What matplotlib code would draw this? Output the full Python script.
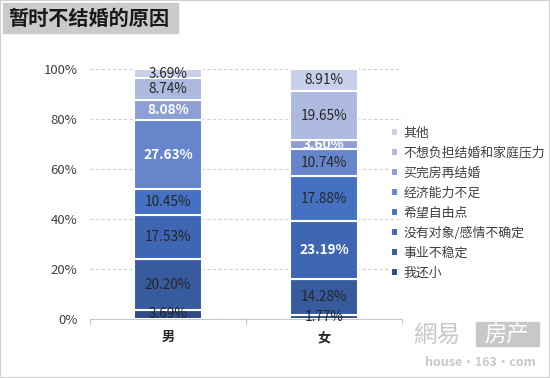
import numpy as np
import matplotlib.pyplot as plt
from matplotlib.patches import Rectangle

plt.rcParams['font.family'] = ['Noto Sans CJK SC', 'DejaVu Sans']

# data (bottom to top of each stack)
genders = ["男", "女"]
reasons = ["我还小", "事业不稳定", "没有对象/感情不确定", "希望自由点",
           "经济能力不足", "买完房再结婚", "不想负担结婚和家庭压力", "其他"]
male = [3.69, 20.20, 17.53, 10.45, 27.63, 8.08, 8.74, 3.69]
female = [1.77, 14.28, 23.19, 17.88, 10.74, 3.60, 19.65, 8.91]
colors = ["#2d4b87", "#385b9f", "#3e66b3", "#4571c2", "#6685cb",
          "#8d9fd5", "#adb9df", "#c9d0ea"]
# which labels are white/bold
white_male = [False, False, False, False, True, True, False, False]
white_female = [False, False, True, False, False, True, False, False]

fig = plt.figure(figsize=(5.5, 3.78), dpi=100)
ax = fig.add_axes([0.1636, 0.156, 0.567, 0.6615])

x = np.arange(len(genders))
bottom = np.zeros(2)
for k, r in enumerate(reasons):
    vals = np.array([male[k], female[k]])
    ax.bar(x, vals, 0.44, bottom=bottom, color=colors[k], edgecolor="white",
           linewidth=1.5, label=r, zorder=3)
    for j in range(2):
        wh = white_male[k] if j == 0 else white_female[k]
        ax.text(x[j], bottom[j] + vals[j] / 2, f"{vals[j]:.2f}%",
                ha="center", va="center", fontsize=9.8,
                color="white" if wh else "#262626",
                fontweight="bold" if wh else "normal", zorder=4)
    bottom += vals

ax.set_xlim(-0.5, 1.5)
ax.set_ylim(0, 100)
ax.set_yticks(range(0, 101, 20))
ax.set_yticklabels([f"{v}%" for v in range(0, 101, 20)], fontsize=9.5, color="#404040")
ax.set_xticks(x)
ax.set_xticklabels(genders, fontsize=9.5, fontweight="bold", color="#262626")
ax.yaxis.grid(True, linestyle=(0, (3, 2)), color="#d0d0d0", linewidth=0.8, zorder=0)
for s in ["top", "right", "left"]:
    ax.spines[s].set_visible(False)
ax.spines["bottom"].set_color("#c8c8c8")
ax.tick_params(axis="y", length=0, pad=9)
ax.tick_params(axis="x", length=0, pad=8)
for xv in [-0.5, 0.5, 1.5]:
    ax.plot([xv, xv], [0, -1.8], color="#c8c8c8", lw=0.8, clip_on=False)

h, l = ax.get_legend_handles_labels()
leg = fig.legend(h[::-1], l[::-1], loc="upper left", bbox_to_anchor=(0.711, 0.665),
                 frameon=False, fontsize=9.3, handlelength=0.5, handleheight=0.5,
                 labelspacing=0.54, handletextpad=0.45, borderpad=0,
                 borderaxespad=0)
for t in leg.get_texts():
    t.set_color("#404040")

# title box
fig.patches.append(Rectangle((3 / 550, 1 - 33 / 378), 175 / 550, 30 / 378,
                             transform=fig.transFigure, color="#cbcbcb", zorder=0))
fig.text(8 / 550, 1 - 18 / 378, "暂时不结婚的原因", fontsize=14.5, fontweight="heavy",
         va="center", ha="left", color="#1a1a1a")

# watermark
fig.text(413 / 550, 1 - 335 / 378, "網易", fontsize=17, color="#c8c8c8", va="center")
fig.patches.append(Rectangle((476 / 550, 1 - 346 / 378), 63 / 550, 24 / 378,
                             transform=fig.transFigure, color="#c8c8c8", zorder=0))
fig.text(507 / 550, 1 - 334 / 378, "房产", fontsize=16, color="white", va="center",
         ha="center")
fig.text(480 / 550, 1 - 362 / 378, "house·163·com", fontsize=9, color="#c8c8c8",
         va="center", ha="center", fontweight="bold")

# figure border
fig.patches.append(Rectangle((0, 0), 1, 1, transform=fig.transFigure, fill=False,
                             edgecolor="#d0d0d0", linewidth=1.5))

fig.savefig("out.png", dpi=100)
